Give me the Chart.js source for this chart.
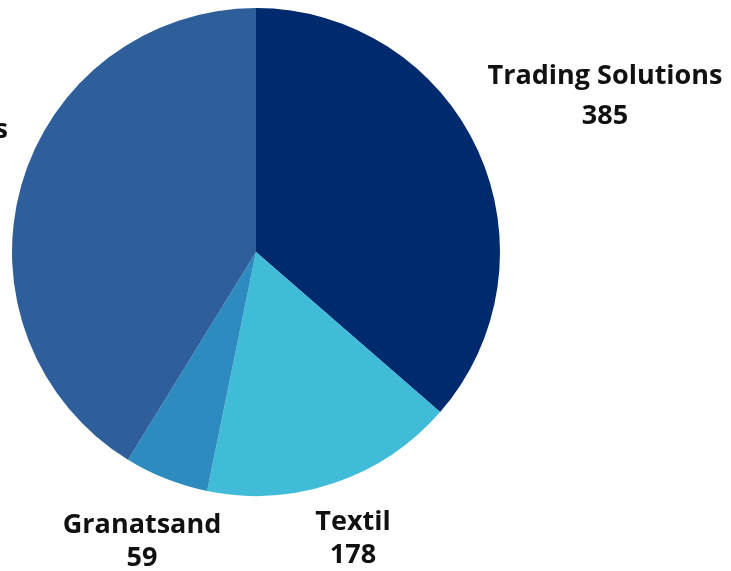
<!DOCTYPE html>
<html>
<head>
<meta charset="utf-8">
<script src="https://cdn.jsdelivr.net/npm/chart.js@4"></script>
<style>
    body { margin: 0; background: #ffffff; }
    #pieChart { display: block; }
</style>
</head>
<body>
<canvas id="pieChart" width="731" height="571"></canvas>
<script>
// Slice data (clockwise from 12 o'clock)
const segmentNames = ['Trading Solutions', 'Textil', 'Granatsand', 'Chemicals'];
const segmentValues = [385, 178, 59, 436];
const segmentColors = ['#002a6e', '#40bcd8', '#2e8bc0', '#2e5f9b'];

// Where each outside label sits: x is the text centre (or right edge when align is 'right'),
// y1/y2 are the baselines of the name and of the value
const labelSpots = [
    { x: 605, y1: 84, y2: 124 },
    { x: 353, y1: 530, y2: 563 },
    { x: 142, y1: 533, y2: 566 },
    { x: 8, y1: 138, y2: 178, align: 'right' }
];

// Draws name + value under each other, centred on the spot
const outsideLabels = {
    id: 'outsideLabels',
    afterDatasetsDraw(chart) {
        const ctx = chart.ctx;
        const data = chart.data.datasets[0].data;
        ctx.save();
        ctx.fillStyle = '#111111';
        ctx.font = "bold 27px 'Open Sans'";
        ctx.textAlign = 'center';
        ctx.textBaseline = 'alphabetic';
        chart.data.labels.forEach((name, i) => {
            const spot = labelSpots[i];
            let cx = spot.x;
            if (spot.align === 'right') {
                cx = spot.x - ctx.measureText(name).width / 2;
            }
            ctx.fillText(name, cx, spot.y1);
            ctx.fillText(String(data[i]), cx, spot.y2);
        });
        ctx.restore();
    }
};

new Chart(document.getElementById('pieChart').getContext('2d'), {
    type: 'pie',
    data: {
        labels: segmentNames,
        datasets: [{
            data: segmentValues,
            backgroundColor: segmentColors,
            borderWidth: 0
        }]
    },
    options: {
        responsive: false,
        animation: false,
        layout: {
            padding: { left: 12, top: 8, right: 231, bottom: 75 }
        },
        plugins: {
            legend: { display: false },
            tooltip: { enabled: false }
        }
    },
    plugins: [outsideLabels]
});
</script>
</body>
</html>
